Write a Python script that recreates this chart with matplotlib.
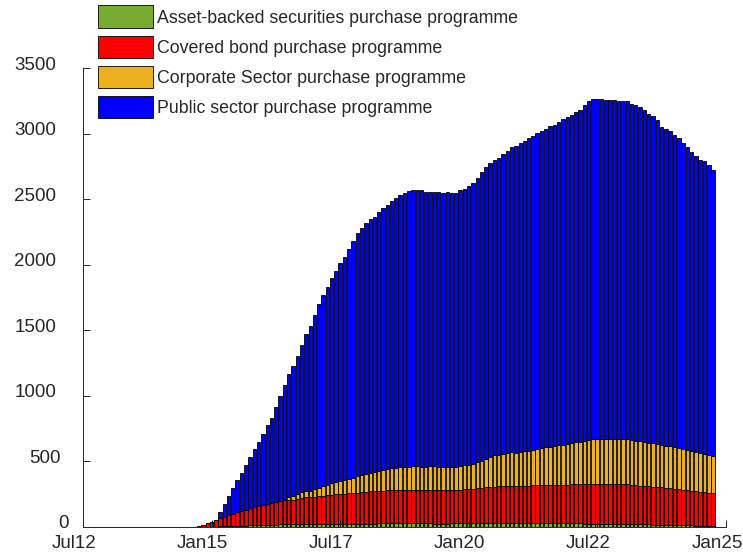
import numpy as np
import pandas as pd
import matplotlib
matplotlib.use("Agg")
import matplotlib.pyplot as plt
from matplotlib.transforms import ScaledTranslation

plt.rcParams["font.family"] = ["Liberation Sans", "DejaVu Sans"]

# Eurosystem APP holdings, EUR bn, month-end, Oct 2014 - Oct 2024
months = pd.date_range("2014-10-01", "2024-10-01", freq="MS")

abspp = [
    0.0, 0.4, 1.7,
    2.3, 3.6, 4.6, 5.5, 6.2, 7.4, 8.5, 9.0, 10.8, 12.4, 13.7, 15.3,
    16.0, 17.1, 18.3, 18.6, 19.3, 19.7, 20.0, 20.4, 20.5, 21.6, 22.0, 22.8,
    23.2, 23.7, 23.8, 24.0, 24.2, 24.1, 24.3, 24.2, 24.6, 24.8, 25.0, 25.0,
    25.7, 26.0, 26.5, 26.9, 27.2, 27.1, 27.2, 27.3, 27.4, 27.4, 27.5, 27.9,
    27.4, 27.2, 27.0, 26.7, 26.5, 26.2, 26.4, 26.6, 26.8, 27.1, 27.8, 27.6,
    27.9, 28.4, 29.6, 30.2, 30.6, 31.1, 30.7, 30.5, 30.4, 29.6, 29.5, 28.5,
    28.7, 28.3, 28.2, 28.1, 27.8, 27.6, 27.7, 27.8, 27.4, 27.2, 27.5, 27.4,
    27.3, 27.1, 26.8, 26.5, 26.0, 25.6, 25.3, 25.2, 24.8, 24.6, 24.6, 24.8,
    24.6, 24.2, 23.6, 22.6, 21.4, 20.6, 19.6, 18.4, 17.7, 16.9, 16.1, 15.2,
    14.5, 13.9, 13.3, 12.6, 11.8, 11.1, 10.6, 10.0, 9.4, 8.8,
]

cbpp = [
    4.8, 17.5, 29.6,
    38.8, 50.1, 61.4, 72.4, 84.3, 94.0, 103.7, 110.2, 119.3, 127.5, 135.1, 143.3,
    151.0, 157.6, 165.3, 170.8, 176.6, 182.4, 186.8, 188.9, 195.6, 199.4, 203.3, 204.1,
    208.0, 212.2, 216.0, 218.9, 222.0, 225.0, 226.3, 228.1, 231.0, 234.0, 238.0, 241.0,
    243, 245, 247, 249, 251, 252, 253, 254, 255, 256, 257, 258,
    258, 257, 257, 257, 257, 256, 256, 256, 256, 256, 258, 259,
    260, 261, 264, 268, 272, 276, 278, 279, 281, 283, 284, 285,
    286, 287, 288, 289, 290, 291, 292, 292, 293, 294, 295, 296,
    297, 298, 299, 300, 301, 302, 302, 302, 301, 301, 301, 301,
    301, 300, 298, 297, 295, 293, 291, 290, 288, 285, 283, 282,
    279, 276, 272, 269, 265, 262, 258, 255, 251, 247,
]

cspp = [
    0, 0, 0,
    0, 0, 0, 0, 0, 0, 0, 0, 0, 0, 0, 0,
    0, 0, 0, 0, 0, 10.4, 20.5, 28.0, 37.9, 44.0, 51.2, 51.1,
    59.0, 64.9, 72.4, 80.3, 87.2, 93.2, 99.4, 104.0, 111.0, 118.5, 126.0, 131.6,
    138.7, 142.4, 147.2, 153.0, 157.5, 162.6, 167.1, 168.0, 171.5, 173.1, 175.6, 177.8,
    177.2, 176.5, 176.0, 178.7, 178.1, 177.7, 176.8, 177.3, 176.8, 178.2, 180.6, 184.1,
    187.5, 193.4, 199.2, 206.8, 213.3, 228.5, 236.8, 241.5, 248.1, 253.0, 256.9, 250.5,
    257.2, 262.0, 266.7, 271.5, 276.7, 281.7, 287.7, 290.6, 295.0, 300.4, 304.6, 309.8,
    315.0, 320.4, 325.6, 331.7, 337.2, 341.0, 342.9, 343.9, 345.1, 346.3, 344.9, 344.2,
    344.0, 343.7, 340.7, 339.9, 336.5, 333.4, 329.8, 329.4, 326.4, 320.6, 318.4, 316.9,
    313.8, 309.6, 306.4, 304.0, 301.1, 298.1, 294.5, 291.7, 289.8, 287.6,
]

pspp = [
    0, 0, 0,
    0, 0, 47, 95, 148, 196, 246, 293, 343, 396, 448, 489,
    545, 600, 647, 726, 805, 871, 937, 988, 1050, 1125, 1197, 1255,
    1327, 1397, 1457, 1510, 1563, 1610, 1661, 1706, 1750, 1804, 1853, 1885,
    1909, 1933, 1945, 1971, 1994, 2013, 2039, 2057, 2078, 2093, 2102, 2106,
    2107, 2107, 2097, 2095, 2095, 2092, 2090, 2092, 2084, 2083, 2104, 2106,
    2125, 2143, 2171, 2200, 2227, 2240, 2250, 2263, 2283, 2301, 2325, 2344,
    2356, 2369, 2381, 2392, 2407, 2417, 2430, 2445, 2453, 2466, 2482, 2491,
    2506, 2517, 2529, 2560, 2582, 2593, 2592, 2591, 2583, 2582, 2583, 2579,
    2579, 2581, 2566, 2555, 2547, 2535, 2509, 2494, 2474, 2431, 2418, 2408,
    2384, 2364, 2338, 2309, 2284, 2260, 2235, 2231, 2210, 2179,
]

series_labels = [
    "Asset-backed securities purchase programme",
    "Covered bond purchase programme",
    "Corporate Sector purchase programme",
    "Public sector purchase programme",
]
series_colors = ["#77AC30", "#FF0000", "#EDB120", "#0000FF"]

xtick_dates = pd.to_datetime(["2012-07-01", "2015-01-01", "2017-07-01",
                              "2020-01-01", "2022-07-01", "2025-01-01"])
xtick_labels = ["Jul12", "Jan15", "Jul17", "Jan20", "Jul22", "Jan25"]
ytick_values = [0, 500, 1000, 1500, 2000, 2500, 3000, 3500]
ytick_labels = ["0", "500", "1000", "1500", "2000", "2500", "3000", "3500"]

grey = "#262626"

fig = plt.figure(figsize=(7.43, 5.55), dpi=100, facecolor="white")
ax = fig.add_axes([83 / 743, 1 - 527 / 555, (726 - 83) / 743, (527 - 68) / 555])

# stacked monthly bars
bottom = np.zeros(len(months))
handles = []
for vals, col, lab in zip([abspp, cbpp, cspp, pspp], series_colors, series_labels):
    vals = np.asarray(vals, dtype=float)
    b = ax.bar(months, vals, width=24.4, bottom=bottom, color=col,
               edgecolor="black", linewidth=0.6, label=lab)
    handles.append(b)
    bottom += vals

ax.set_xlim(pd.Timestamp("2012-07-01"), pd.Timestamp("2025-01-01"))
ax.set_ylim(0, 3500)
ax.set_xticks(xtick_dates, labels=xtick_labels)
ax.set_yticks(ytick_values, labels=ytick_labels)

ax.spines["top"].set_visible(False)
ax.spines["right"].set_visible(False)
ax.spines["left"].set_color(grey)
ax.spines["bottom"].set_color(grey)
ax.spines["left"].set_linewidth(0.7)
ax.spines["bottom"].set_linewidth(0.7)

ax.tick_params(axis="both", direction="in", length=5, width=0.7,
               colors=grey, labelsize=13.5)
ax.tick_params(axis="x", pad=5.4)
ax.tick_params(axis="y", pad=7.6)

# nudge tick labels
for lbl in ax.get_xticklabels():
    lbl.set_transform(lbl.get_transform()
                      + ScaledTranslation(-9 / 100, 0, fig.dpi_scale_trans))
for lbl in ax.get_yticklabels():
    n = len(lbl.get_text())
    lbl.set_transform(lbl.get_transform()
                      + ScaledTranslation(-4 * n / 100, 5 / 100, fig.dpi_scale_trans))

leg = fig.legend(handles=handles, labels=series_labels, loc="upper left",
                 bbox_to_anchor=(98 / 743, 1 - 5.5 / 555), frameon=False,
                 fontsize=12.8, handlelength=3.1, handleheight=1.58,
                 labelspacing=0.42, handletextpad=0.2,
                 borderpad=0, borderaxespad=0)
for t in leg.get_texts():
    t.set_color(grey)

fig.savefig("out.png", dpi=100, facecolor="white")
